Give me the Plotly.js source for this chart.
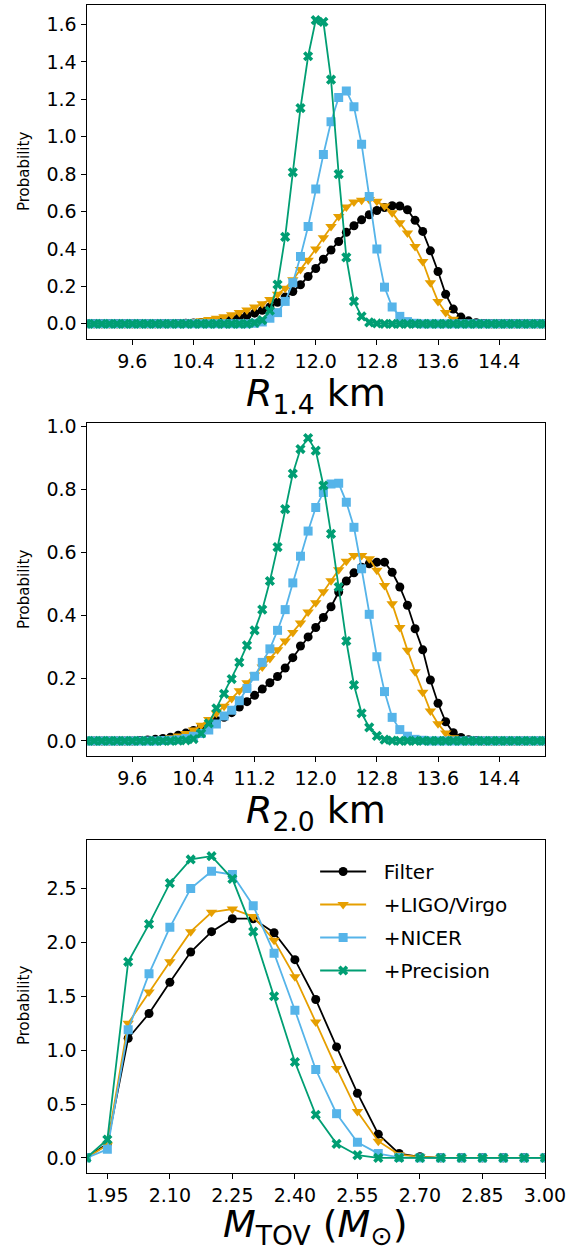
<!DOCTYPE html>
<html>
<head>
<meta charset="utf-8">
<script src="https://cdn.plot.ly/plotly-3.0.1.min.js"></script>
<style>html,body{margin:0;padding:0;background:#fff;}#plot{width:574px;height:1247px;}</style>
</head>
<body>
<div id="plot"></div>
<script>
// Radius grid (km)
const radius = [9.0,9.1,9.2,9.3,9.4,9.5,9.6,9.7,9.8,9.9,10.0,10.1,10.2,10.3,10.4,10.5,10.6,10.7,10.8,10.9,11.0,11.1,11.2,11.3,11.4,11.5,11.6,11.7,11.8,11.9,12.0,12.1,12.2,12.3,12.4,12.5,12.6,12.7,12.8,12.9,13.0,13.1,13.2,13.3,13.4,13.5,13.6,13.7,13.8,13.9,14.0,14.1,14.2,14.3,14.4,14.5,14.6,14.7,14.8,14.9,15.0];

// Panel 1: R_1.4
const r14_filter = [0,0,0,0,0,0,0,0,0,0,0.001,0.001,0.002,0.003,0.005,0.007,0.01,0.015,0.02,0.027,0.035,0.045,0.057,0.072,0.09,0.115,0.143,0.173,0.209,0.253,0.296,0.345,0.394,0.44,0.489,0.524,0.556,0.583,0.606,0.622,0.631,0.63,0.61,0.553,0.494,0.39,0.28,0.158,0.079,0.036,0.016,0.006,0.002,0,0,0,0,0,0,0,0];
const r14_ligo = [0,0,0,0,0,0,0,0,0,0.001,0.002,0.004,0.006,0.009,0.012,0.017,0.023,0.03,0.038,0.048,0.06,0.074,0.09,0.108,0.13,0.158,0.19,0.235,0.29,0.34,0.4,0.46,0.52,0.574,0.624,0.651,0.66,0.665,0.655,0.63,0.594,0.54,0.485,0.414,0.333,0.22,0.12,0.06,0.025,0.008,0.002,0,0,0,0,0,0,0,0,0,0];
const r14_nicer = [0,0,0,0,0,0,0,0,0,0,0,0,0,0,0,0,0,0,0,0,0,0,0.003,0.01,0.03,0.06,0.12,0.22,0.36,0.52,0.72,0.905,1.08,1.21,1.245,1.16,0.96,0.68,0.40,0.196,0.09,0.04,0.012,0.003,0,0,0,0,0,0,0,0,0,0,0,0,0,0,0,0,0];
const r14_prec = [0,0,0,0,0,0,0,0,0,0,0,0,0,0,0,0,0,0,0,0,0,0,0.005,0.02,0.07,0.21,0.465,0.81,1.153,1.43,1.623,1.614,1.305,0.80,0.355,0.12,0.04,0.008,0.002,0,0,0,0,0,0,0,0,0,0,0,0,0,0,0,0,0,0,0,0,0,0];

// Panel 2: R_2.0
const r20_filter = [0,0,0,0,0,0,0,0.001,0.003,0.005,0.008,0.012,0.018,0.025,0.033,0.043,0.055,0.065,0.075,0.09,0.108,0.125,0.145,0.165,0.185,0.205,0.232,0.265,0.302,0.331,0.361,0.393,0.427,0.474,0.509,0.535,0.553,0.564,0.569,0.569,0.537,0.49,0.432,0.357,0.29,0.194,0.12,0.061,0.026,0.011,0.004,0.001,0,0,0,0,0,0,0,0,0];
const r20_ligo = [0,0,0,0,0,0,0,0.001,0.002,0.004,0.006,0.01,0.016,0.024,0.035,0.05,0.068,0.088,0.11,0.135,0.16,0.185,0.21,0.235,0.262,0.29,0.318,0.345,0.375,0.41,0.44,0.475,0.51,0.545,0.572,0.59,0.59,0.58,0.543,0.495,0.437,0.361,0.289,0.22,0.155,0.095,0.055,0.025,0.01,0.003,0,0,0,0,0,0,0,0,0,0,0];
const r20_nicer = [0,0,0,0,0,0,0,0,0,0,0.001,0.002,0.004,0.008,0.015,0.024,0.035,0.054,0.079,0.098,0.128,0.167,0.206,0.25,0.293,0.352,0.418,0.503,0.588,0.668,0.743,0.791,0.818,0.82,0.76,0.68,0.548,0.403,0.268,0.157,0.075,0.036,0.015,0.005,0.002,0,0,0,0,0,0,0,0,0,0,0,0,0,0,0,0];
const r20_prec = [0,0,0,0,0,0,0,0,0,0,0,0,0.001,0.002,0.006,0.024,0.056,0.104,0.15,0.197,0.25,0.304,0.352,0.418,0.509,0.617,0.738,0.851,0.929,0.964,0.924,0.813,0.659,0.49,0.318,0.178,0.088,0.043,0.016,0.004,0.001,0,0,0,0,0,0,0,0,0,0,0,0,0,0,0,0,0,0,0,0];

// Panel 3: M_TOV
const mtov = [1.90,1.95,2.00,2.05,2.10,2.15,2.20,2.25,2.30,2.35,2.40,2.45,2.50,2.55,2.60,2.65,2.70,2.75,2.80,2.85,2.90,2.95,3.00];
const m_filter = [0,0.13,1.11,1.34,1.63,1.91,2.10,2.22,2.22,2.09,1.84,1.47,1.03,0.60,0.22,0.04,0.01,0,0,0,0,0,0];
const m_ligo = [0,0.12,1.25,1.54,1.82,2.10,2.28,2.31,2.24,2.02,1.68,1.26,0.83,0.43,0.155,0.03,0.01,0,0,0,0,0,0];
const m_nicer = [0,0.08,1.19,1.71,2.14,2.50,2.66,2.63,2.34,1.90,1.37,0.82,0.41,0.145,0.04,0.005,0,0,0,0,0,0,0];
const m_prec = [0,0.17,1.82,2.17,2.55,2.77,2.80,2.59,2.10,1.50,0.89,0.40,0.13,0.025,0,0,0,0,0,0,0,0,0];

const seriesNames = ['Filter','+LIGO/Virgo','+NICER','+Precision'];
const colors = ['#000000','#E69F00','#56B4E9','#009E73'];
const symbols = ['circle','triangle-down','square','x'];
const msizes = [9,10,9,9];

const FONT = 'DejaVu Sans, Liberation Sans, sans-serif';
const PAD = '\u00a0\u00a0';
const traces = [];
function addPanel(x, ys, xa, ya, legend) {
  ys.forEach((y, k) => {
    traces.push({
      x: x, y: y, xaxis: xa, yaxis: ya, type: 'scatter', mode: 'lines+markers',
      name: PAD + seriesNames[k], showlegend: legend, legendgroup: 'g' + k,
      line: {color: colors[k], width: 1.8},
      marker: {color: colors[k], symbol: symbols[k], size: msizes[k], line: {width: 0}}
    });
  });
}
addPanel(radius, [r14_filter, r14_ligo, r14_nicer, r14_prec], 'x', 'y', false);
addPanel(radius, [r20_filter, r20_ligo, r20_nicer, r20_prec], 'x2', 'y2', false);
addPanel(mtov, [m_filter, m_ligo, m_nicer, m_prec], 'x3', 'y3', true);

const W = 574, H = 1247;
const xl = 86.5 / W, xr = 545 / W;
function ydom(top, bot) { return [1 - bot / H, 1 - top / H]; }
const axBase = {
  showline: true, mirror: true, linecolor: '#000', linewidth: 1,
  ticks: 'outside', ticklen: 5, tickwidth: 1, tickcolor: '#000',
  showgrid: false, zeroline: false,
  tickfont: {family: FONT, size: 19, color: '#000'}
};
function ax(extra) { return Object.assign({}, axBase, extra); }

const layout = {
  width: W, height: H,
  margin: {l: 0, r: 0, t: 0, b: 0},
  paper_bgcolor: '#fff', plot_bgcolor: '#fff',
  font: {family: FONT, color: '#000'},
  showlegend: true,
  legend: {
    x: 0.549, y: 1 - 852 / H, xanchor: 'left', yanchor: 'top',
    font: {family: FONT, size: 20, color: '#000'},
    bgcolor: 'rgba(0,0,0,0)', tracegroupgap: 4, itemwidth: 46
  },
  xaxis: ax({domain: [xl, xr], anchor: 'y', range: [9, 15], tick0: 9.6, dtick: 0.8, tickformat: '.1f'}),
  yaxis: ax({domain: ydom(5, 339), anchor: 'x', range: [-0.081, 1.704], tick0: 0, dtick: 0.2, tickformat: '.1f'}),
  xaxis2: ax({domain: [xl, xr], anchor: 'y2', range: [9, 15], tick0: 9.6, dtick: 0.8, tickformat: '.1f'}),
  yaxis2: ax({domain: ydom(423, 756), anchor: 'x2', range: [-0.048, 1.012], tick0: 0, dtick: 0.2, tickformat: '.1f'}),
  xaxis3: ax({domain: [xl, xr], anchor: 'y3', range: [1.9, 3.0], tick0: 1.95, dtick: 0.15, tickformat: '.2f'}),
  yaxis3: ax({domain: ydom(840, 1173), anchor: 'x3', range: [-0.1405, 2.9505], tick0: 0, dtick: 0.5, tickformat: '.1f'}),
  annotations: [
    {text: '<i>R</i><sub>1.4</sub> km', xref: 'paper', yref: 'paper', x: (xl + xr) / 2, y: 1 - 395 / H, xanchor: 'center', yanchor: 'middle', showarrow: false, font: {family: FONT, size: 38, color: '#000'}},
    {text: '<i>R</i><sub>2.0</sub> km', xref: 'paper', yref: 'paper', x: (xl + xr) / 2, y: 1 - 812 / H, xanchor: 'center', yanchor: 'middle', showarrow: false, font: {family: FONT, size: 38, color: '#000'}},
    {text: '<i>M</i><sub>TOV</sub> (<i>M</i><sub>⊙</sub>)', xref: 'paper', yref: 'paper', x: (xl + xr) / 2, y: 1 - 1226 / H, xanchor: 'center', yanchor: 'middle', showarrow: false, font: {family: FONT, size: 38, color: '#000'}},
    {text: 'Probability', xref: 'paper', yref: 'paper', x: 24 / W, y: 1 - 172 / H, xanchor: 'center', yanchor: 'middle', textangle: -90, showarrow: false, font: {family: FONT, size: 15, color: '#000'}},
    {text: 'Probability', xref: 'paper', yref: 'paper', x: 24 / W, y: 1 - 590 / H, xanchor: 'center', yanchor: 'middle', textangle: -90, showarrow: false, font: {family: FONT, size: 15, color: '#000'}},
    {text: 'Probability', xref: 'paper', yref: 'paper', x: 24 / W, y: 1 - 1006 / H, xanchor: 'center', yanchor: 'middle', textangle: -90, showarrow: false, font: {family: FONT, size: 15, color: '#000'}}
  ]
};

Plotly.newPlot('plot', traces, layout, {staticPlot: true, displayModeBar: false});
</script>
</body>
</html>
